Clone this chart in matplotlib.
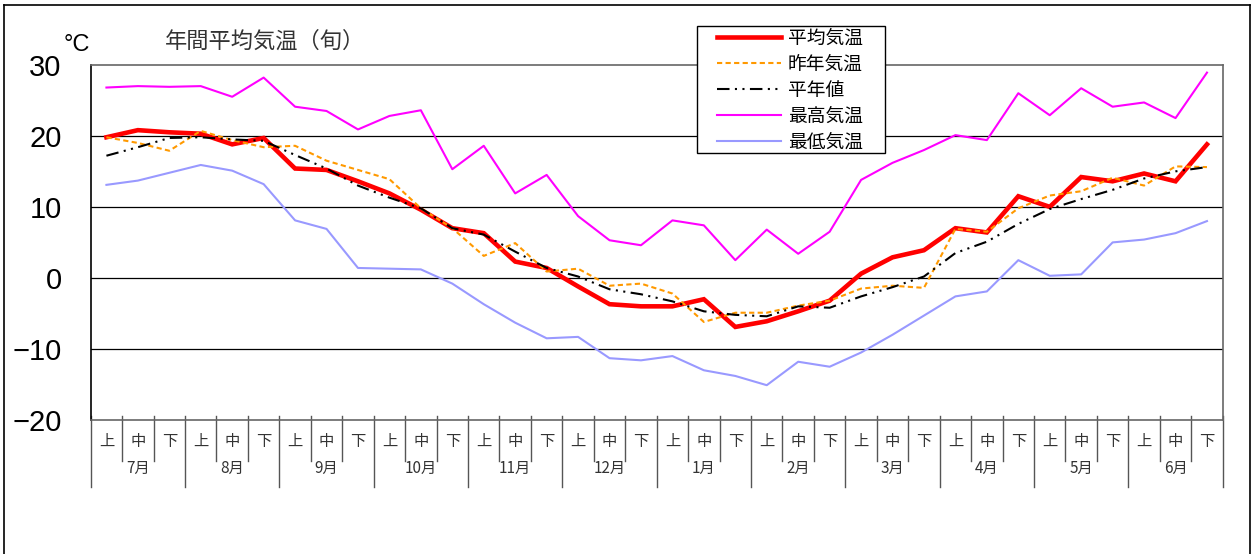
import numpy as np
import matplotlib
matplotlib.use("Agg")
import matplotlib.pyplot as plt
from matplotlib.transforms import blended_transform_factory
from matplotlib.lines import Line2D
from matplotlib.patches import Rectangle
from matplotlib.font_manager import FontProperties

# 旬ごとのデータ (7月上旬 〜 6月下旬)
meses = ["7月", "8月", "9月", "10月", "11月", "12月",
         "1月", "2月", "3月", "4月", "5月", "6月"]
junes = ["上", "中", "下"]

heikin = [19.8, 20.8, 20.5, 20.3, 18.8, 19.7, 15.4, 15.2, 13.6,
          11.9, 9.6, 7.0, 6.3, 2.3, 1.4, -1.2, -3.7, -4.0,
          -4.0, -3.0, -6.9, -6.1, -4.7, -3.2, 0.6, 2.9, 3.9,
          7.0, 6.4, 11.5, 10.0, 14.2, 13.6, 14.7, 13.6, 18.8]
sakunen = [19.8, 19.0, 17.9, 20.7, 19.4, 18.4, 18.6, 16.5, 15.2,
           13.9, 9.8, 7.0, 3.1, 4.9, 0.9, 1.3, -1.1, -0.8,
           -2.2, -6.2, -4.9, -4.9, -3.9, -3.2, -1.5, -1.1, -1.4,
           6.9, 6.5, 9.8, 11.6, 12.2, 14.1, 13.0, 15.7, 15.6]
heinen = [17.2, 18.4, 19.7, 19.8, 19.5, 19.3, 17.3, 15.4, 13.0,
          11.3, 9.8, 7.0, 6.1, 3.7, 1.4, 0.2, -1.6, -2.3,
          -3.3, -4.7, -5.2, -5.4, -4.0, -4.2, -2.6, -1.3, 0.2,
          3.5, 5.1, 7.6, 9.7, 11.1, 12.4, 14.0, 15.0, 15.6]
saikou = [26.8, 27.0, 26.9, 27.0, 25.5, 28.2, 24.1, 23.5, 20.9,
          22.8, 23.6, 15.3, 18.6, 11.9, 14.5, 8.7, 5.3, 4.6,
          8.1, 7.4, 2.5, 6.8, 3.4, 6.5, 13.8, 16.2, 18.0,
          20.1, 19.4, 26.0, 22.9, 26.7, 24.1, 24.7, 22.5, 28.9]
saitei = [13.1, 13.7, 14.8, 15.9, 15.1, 13.2, 8.1, 6.9, 1.4,
          1.3, 1.2, -0.8, -3.7, -6.3, -8.5, -8.3, -11.3, -11.6,
          -11.0, -13.0, -13.8, -15.1, -11.8, -12.5, -10.5, -8.0, -5.3,
          -2.6, -1.9, 2.5, 0.3, 0.5, 5.0, 5.4, 6.3, 8.0]

cjk = "Noto Sans CJK JP"
W, H = 1253, 554

fig = plt.figure(figsize=(W / 100, H / 100), dpi=100)
ax = fig.add_axes([90.7 / W, 1 - 420 / H, 1132 / W, 355.2 / H])

x = np.arange(len(heikin))
l1, = ax.plot(x, heikin, color="#ff0000", lw=3.3, solid_joinstyle="miter", zorder=3)
l2, = ax.plot(x, sakunen, color="#ff9900", lw=1.5, ls=(0, (2.5, 1.6)), zorder=4)
l3, = ax.plot(x, heinen, color="black", lw=1.5, ls=(0, (6, 2.6, 1, 2.6, 1, 2.6)), zorder=4)
l4, = ax.plot(x, saikou, color="#ff00ff", lw=1.5, zorder=4)
l5, = ax.plot(x, saitei, color="#9999ff", lw=1.5, zorder=4)

ax.set_xlim(-0.5, 35.5)
ax.set_ylim(-20, 30)
ax.set_yticks([-20, -10, 0, 10, 20, 30])
ax.set_yticklabels(["\u221220", "\u221210", "0", "10", "20", "30"],
                   fontfamily="Liberation Sans")
ax.tick_params(axis="y", length=0, pad=21, labelsize=21)
ax.set_xticks([])
for v in [-10, 0, 10, 20]:
    ax.axhline(v, color="black", lw=0.9, zorder=1)
for s in ["top", "right", "bottom"]:
    ax.spines[s].set_color("#666666")
ax.spines["left"].set_color("black")
for s in ax.spines.values():
    s.set_linewidth(1.2)

# etiquetas del eje x (旬 y meses)
tr = blended_transform_factory(ax.transData, ax.transAxes)
for k in range(37):
    y_fin = -0.1886 if k % 3 == 0 else -0.1154
    ax.plot([k - 0.5, k - 0.5], [0.012, y_fin], color="#555555", lw=1.0,
            transform=tr, clip_on=False)
for i in range(36):
    ax.text(i, -0.061, junes[i % 3], transform=tr, ha="center", va="center",
            fontsize=11, family=cjk, color="#333333")
for m, mes in enumerate(meses):
    ax.text(3 * m + 1, -0.136, mes, transform=tr, ha="center", va="center",
            fontsize=11, family=cjk, color="#333333")

fig.text(165 / W, 1 - 41 / H, "年間平均気温（旬）", fontsize=16, family=cjk,
         color="#333333", ha="left", va="center")
fig.text(64 / W, 1 - 45 / H, "°C", fontsize=17, family="Liberation Sans",
         ha="left", va="center")

# leyenda: caja propia + leyenda sin marco
caja = Rectangle((697 / W, 1 - 153 / H), 188 / W, 127 / H, transform=fig.transFigure,
                 facecolor="white", edgecolor="black", lw=1.0, zorder=9, clip_on=False)
ax.add_patch(caja)
leg = ax.legend([l1, l2, l3, l4, l5],
                ["平均気温", "昨年気温", "平年値", "最高気温", "最低気温"],
                loc="upper left", bbox_to_anchor=(717 / W, 1 - 27.5 / H),
                bbox_transform=fig.transFigure, borderaxespad=0,
                prop=FontProperties(family=cjk, size=13.5),
                handlelength=3.41, handletextpad=0.37, labelspacing=0.27,
                borderpad=0, frameon=False)
leg.set_zorder(10)

# marco exterior de la figura
for xs, ys in [([3.5 / W, 3.5 / W], [0, 1 - 4.5 / H]),
               ([3.5 / W, 1249.5 / W], [1 - 4.5 / H, 1 - 4.5 / H]),
               ([1249.5 / W, 1249.5 / W], [0, 1 - 4.5 / H])]:
    fig.add_artist(Line2D(xs, ys, color="black", lw=1.2, transform=fig.transFigure))

fig.savefig("out.png", dpi=100)
